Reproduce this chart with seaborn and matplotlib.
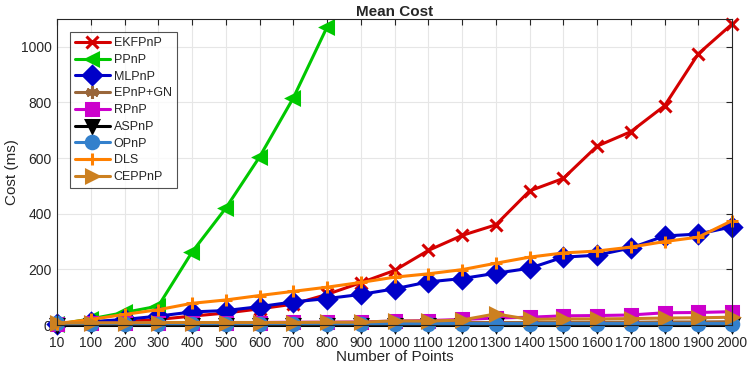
"""Mean cost of PnP solvers against number of points."""

import numpy as np
import pandas as pd
import matplotlib
matplotlib.use("Agg")
import matplotlib.pyplot as plt
import seaborn as sns

points = [10, 100, 200, 300, 400, 500, 600, 700, 800, 900, 1000,
          1100, 1200, 1300, 1400, 1500, 1600, 1700, 1800, 1900, 2000]

ekfpnp = [3, 8, 12, 20, 32, 43, 58, 75, 110, 152, 196,
          268, 322, 360, 482, 527, 643, 695, 788, 975, 1082]
ppnp = [2, 22, 45, 68, 262, 420, 604, 816, 1071]
mlpnp = [5, 12, 20, 32, 47, 52, 66, 83, 95, 110, 130,
         155, 167, 186, 204, 244, 251, 277, 320, 327, 353]
epnp_gn = [4, 5, 5, 6, 6, 6, 7, 7, 7, 8, 8,
           8, 9, 9, 9, 10, 10, 10, 11, 11, 12]
rpnp = [5, 6, 7, 8, 8, 9, 9, 10, 10, 11, 14,
        16, 20, 25, 28, 33, 34, 36, 44, 45, 48]
aspnp = [1, 1, 1, 1, 1, 1, 1, 1, 1, 1, 1,
         1, 1, 1, 1, 1, 1, 1, 1, 1, 1]
opnp = [6, 5, 5, 5, 5, 5, 5, 5, 5, 5, 5,
        5, 5, 5, 5, 5, 5, 5, 5, 5, 5]
dls = [5, 20, 38, 55, 78, 90, 106, 121, 136, 153, 172,
       184, 199, 222, 244, 259, 266, 280, 300, 316, 375]
ceppnp = [7, 8, 8, 9, 9, 9, 9, 9, 10, 10, 15,
          14, 18, 40, 20, 22, 22, 23, 25, 26, 28]

series = [
    ("EKFPnP", ekfpnp, "#d40000", "x"),
    ("PPnP", ppnp, "#00c800", "<"),
    ("MLPnP", mlpnp, "#0000c8", "D"),
    ("EPnP+GN", epnp_gn, "#99663a", (6, 2, 0)),
    ("RPnP", rpnp, "#cc00cc", "s"),
    ("ASPnP", aspnp, "#000000", "v"),
    ("OPnP", opnp, "#3380cc", "o"),
    ("DLS", dls, "#ff8000", "+"),
    ("CEPPnP", ceppnp, "#cc8020", ">"),
]

sns.set_style("white")
plt.rcParams["font.family"] = ["Liberation Sans", "DejaVu Sans"]

fig = plt.figure(figsize=(7.47, 3.66), dpi=100)
ax = fig.add_axes([0.0763, 0.112, 0.9037, 0.836])

for name, vals, color, marker in series:
    df = pd.DataFrame({"x": np.arange(len(vals)), "y": vals})
    sns.lineplot(data=df, x="x", y="y", ax=ax, color=color, marker=marker,
                 markersize=9, markeredgewidth=2.2, markerfacecolor=color,
                 markeredgecolor=color, linewidth=2.2, label=name,
                 clip_on=False)

ax.set_xlim(0, len(points) - 1)
ax.set_ylim(0, 1100)
ax.set_xticks(np.arange(len(points)))
ax.set_xticklabels([str(p) for p in points])
ax.set_yticks([0, 200, 400, 600, 800, 1000])
ax.tick_params(direction="in", top=True, right=True, labelsize=10,
               length=4, width=0.8, colors="#262626")
ax.tick_params(axis="x", pad=8)
ax.tick_params(axis="y", pad=4)
ax.grid(True, color="#e6e6e6", linewidth=0.8)
for sp in ax.spines.values():
    sp.set_color("#262626")
    sp.set_linewidth(0.8)

ax.set_title("Mean Cost", fontsize=11, fontweight="bold", pad=2)
ax.set_xlabel("Number of Points", fontsize=11, labelpad=0)
ax.set_ylabel("Cost (ms)", fontsize=11, labelpad=1)

leg = ax.legend(loc="upper left", bbox_to_anchor=(0.019, 0.957), fontsize=9,
                frameon=True, fancybox=False, handlelength=2.8,
                labelspacing=0.38, borderpad=0.4, handletextpad=0.3,
                borderaxespad=0)
leg.get_frame().set_edgecolor("#262626")
leg.get_frame().set_linewidth(0.8)

fig.savefig("out.png", dpi=100)
